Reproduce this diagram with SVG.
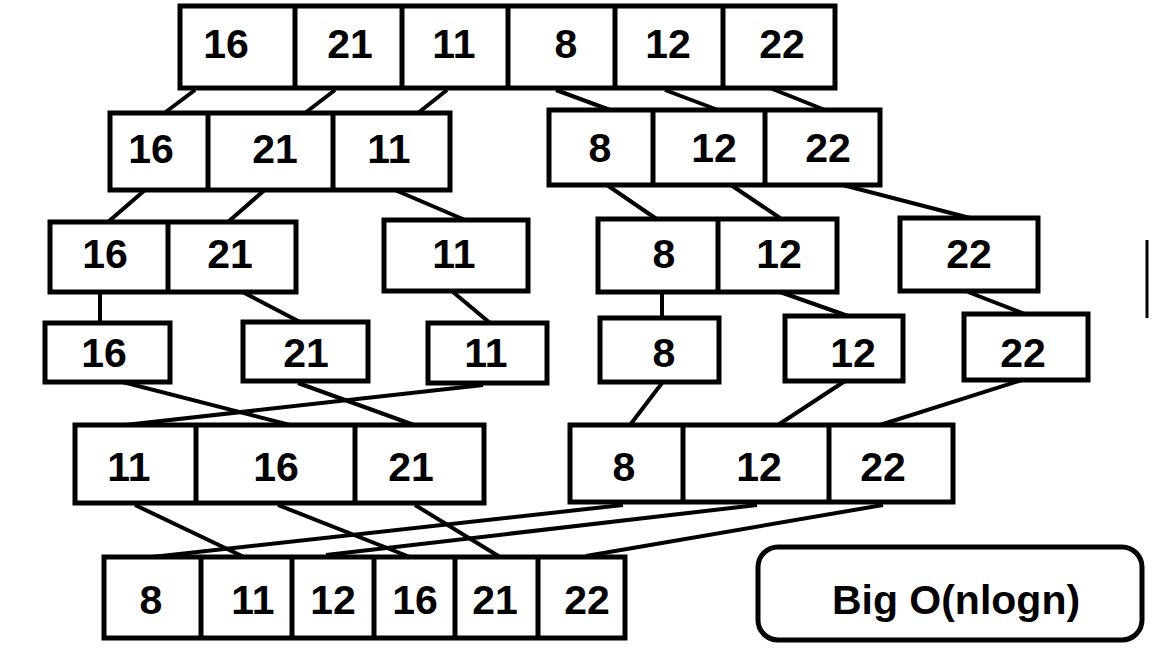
<svg xmlns="http://www.w3.org/2000/svg" width="1152" height="648" viewBox="0 0 1152 648">
<style>
.b{fill:#fff;stroke:#000;stroke-width:5}
.d{stroke:#000;stroke-width:5}
.c line{stroke:#000;stroke-width:4}
text{font-family:"Liberation Sans",Arial,sans-serif;font-weight:bold;font-size:41px;text-anchor:middle;fill:#000}
</style>
<rect width="1152" height="648" fill="#fff"/>
<g id="connectors" class="c">
<line x1="195" y1="90" x2="163" y2="114"/>
<line x1="335" y1="90" x2="305" y2="113"/>
<line x1="447" y1="90" x2="418" y2="113"/>
<line x1="556" y1="90" x2="610" y2="110"/>
<line x1="665" y1="90" x2="718" y2="110"/>
<line x1="770" y1="88" x2="825" y2="110"/>
<line x1="145" y1="190" x2="108" y2="222"/>
<line x1="268" y1="187" x2="228" y2="222"/>
<line x1="395" y1="190" x2="465" y2="220"/>
<line x1="604" y1="183" x2="658" y2="220"/>
<line x1="728" y1="183" x2="780" y2="218"/>
<line x1="835" y1="183" x2="970" y2="218"/>
<line x1="100" y1="290" x2="100" y2="323"/>
<line x1="235" y1="288" x2="300" y2="322"/>
<line x1="453" y1="292" x2="490" y2="323"/>
<line x1="662" y1="292" x2="662" y2="318"/>
<line x1="780" y1="292" x2="848" y2="316"/>
<line x1="968" y1="292" x2="1025" y2="314"/>
<line x1="103" y1="377" x2="290" y2="425"/>
<line x1="298" y1="383" x2="414" y2="425"/>
<line x1="483" y1="385" x2="125" y2="425"/>
<line x1="662" y1="383" x2="630" y2="425"/>
<line x1="845" y1="381" x2="778" y2="425"/>
<line x1="1022" y1="380" x2="880" y2="425"/>
<line x1="135" y1="505" x2="244" y2="557"/>
<line x1="278" y1="505" x2="415" y2="559"/>
<line x1="415" y1="505" x2="500" y2="557"/>
<line x1="623" y1="505" x2="152" y2="557"/>
<line x1="757" y1="505" x2="326" y2="555"/>
<line x1="883" y1="505" x2="586" y2="556"/>
<line x1="1147" y1="240" x2="1147" y2="318" style="stroke-width:3"/>
</g>
<g id="top">
<rect class="b" x="180" y="6" width="655" height="82"/>
<line class="d" x1="295" y1="6" x2="295" y2="88"/><line class="d" x1="402" y1="6" x2="402" y2="88"/><line class="d" x1="508" y1="6" x2="508" y2="88"/><line class="d" x1="615" y1="6" x2="615" y2="88"/><line class="d" x1="723" y1="6" x2="723" y2="88"/>
<text x="226" y="58">16</text><text x="350" y="58">21</text><text x="454" y="58">11</text><text x="566" y="58">8</text><text x="668" y="58">12</text><text x="782" y="58">22</text>
</g>
<g id="l2a">
<rect class="b" x="110" y="113" width="340" height="77"/>
<line class="d" x1="208" y1="113" x2="208" y2="190"/><line class="d" x1="333" y1="113" x2="333" y2="190"/>
<text x="151" y="163">16</text><text x="275" y="163">21</text><text x="389" y="163">11</text>
</g>
<g id="l2b">
<rect class="b" x="549" y="110" width="331" height="75"/>
<line class="d" x1="653" y1="110" x2="653" y2="185"/><line class="d" x1="765" y1="110" x2="765" y2="185"/>
<text x="600" y="162">8</text><text x="714" y="162">12</text><text x="828" y="162">22</text>
</g>
<g id="l3a">
<rect class="b" x="50" y="222" width="246" height="70"/>
<line class="d" x1="168" y1="222" x2="168" y2="292"/>
<text x="105" y="268">16</text><text x="230" y="268">21</text>
</g>
<g id="l3b">
<rect class="b" x="384" y="220" width="144" height="71"/>
<text x="454" y="268">11</text>
</g>
<g id="l3c">
<rect class="b" x="598" y="219" width="239" height="73"/>
<line class="d" x1="718" y1="219" x2="718" y2="292"/>
<text x="664" y="268">8</text><text x="779" y="268">12</text>
</g>
<g id="l3d">
<rect class="b" x="900" y="218" width="138" height="73"/>
<text x="969" y="268">22</text>
</g>
<g id="l4a"><rect class="b" x="45" y="323" width="125" height="59"/><text x="104" y="367">16</text></g>
<g id="l4b"><rect class="b" x="243" y="322" width="125" height="59"/><text x="306" y="367">21</text></g>
<g id="l4c"><rect class="b" x="428" y="323" width="119" height="60"/><text x="486" y="367">11</text></g>
<g id="l4d"><rect class="b" x="600" y="318" width="119" height="64"/><text x="664" y="367">8</text></g>
<g id="l4e"><rect class="b" x="785" y="316" width="118" height="65"/><text x="853" y="367">12</text></g>
<g id="l4f"><rect class="b" x="964" y="314" width="124" height="66"/><text x="1023" y="367">22</text></g>
<g id="l5a">
<rect class="b" x="75" y="425" width="409" height="78"/>
<line class="d" x1="196" y1="425" x2="196" y2="503"/><line class="d" x1="355" y1="425" x2="355" y2="503"/>
<text x="129" y="481">11</text><text x="276" y="481">16</text><text x="411" y="481">21</text>
</g>
<g id="l5b">
<rect class="b" x="570" y="425" width="383" height="77"/>
<line class="d" x1="683" y1="425" x2="683" y2="502"/><line class="d" x1="829" y1="425" x2="829" y2="502"/>
<text x="624" y="481">8</text><text x="759" y="481">12</text><text x="883" y="481">22</text>
</g>
<g id="l6">
<rect class="b" x="104" y="557" width="521" height="81"/>
<line class="d" x1="201" y1="557" x2="201" y2="638"/><line class="d" x1="292" y1="557" x2="292" y2="638"/><line class="d" x1="374" y1="557" x2="374" y2="638"/><line class="d" x1="455" y1="557" x2="455" y2="638"/><line class="d" x1="538" y1="557" x2="538" y2="638"/>
<text x="151" y="614">8</text><text x="253" y="614">11</text><text x="333" y="614">12</text><text x="415" y="614">16</text><text x="495" y="614">21</text><text x="587" y="614">22</text>
</g>
<g id="bigo">
<rect class="b" x="758" y="547" width="384" height="93" rx="20"/>
<text x="956" y="614">Big O(nlogn)</text>
</g>
</svg>
